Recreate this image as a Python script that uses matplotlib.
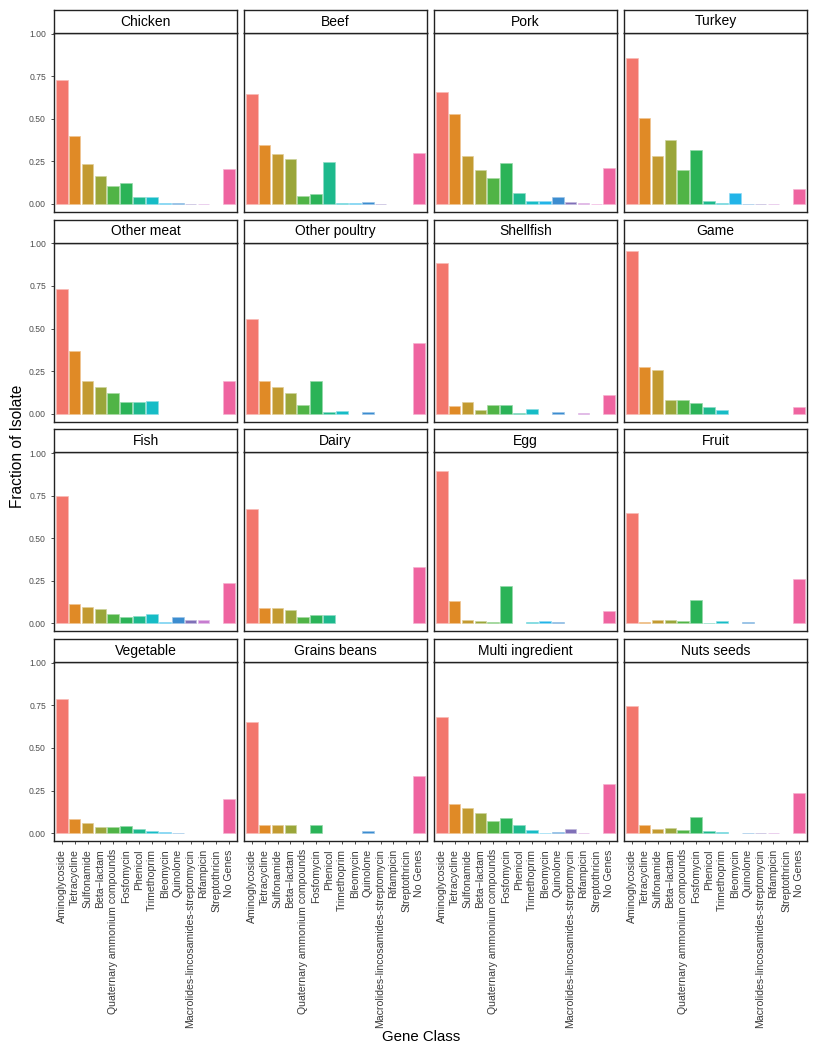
import numpy as np
import matplotlib
matplotlib.use("Agg")
from matplotlib import pyplot as plt

plt.rcParams['font.family'] = ['Liberation Sans', 'DejaVu Sans']

gene_classes = ["Aminoglycoside", "Tetracycline", "Sulfonamide", "Beta\u2212lactam",
                "Quaternary ammonium compounds", "Fosfomycin", "Phenicol", "Trimethoprim",
                "Bleomycin", "Quinolone", "Macrolides-lincosamides-streptomycin",
                "Rifampicin", "Streptothricin", "No Genes"]

foods = ["Chicken", "Beef", "Pork", "Turkey",
         "Other meat", "Other poultry", "Shellfish", "Game",
         "Fish", "Dairy", "Egg", "Fruit",
         "Vegetable", "Grains beans", "Multi ingredient", "Nuts seeds"]

# fraction of isolates per gene class
chicken = [0.726, 0.400, 0.233, 0.165, 0.103, 0.125, 0.041, 0.041, 0.006, 0.003, 0.002, 0.001, 0.0, 0.205]
beef = [0.648, 0.348, 0.294, 0.264, 0.045, 0.057, 0.249, 0.006, 0.004, 0.012, 0.002, 0.0, 0.0, 0.299]
pork = [0.659, 0.530, 0.282, 0.202, 0.151, 0.239, 0.063, 0.016, 0.016, 0.041, 0.012, 0.006, 0.001, 0.213]
turkey = [0.855, 0.507, 0.282, 0.378, 0.200, 0.315, 0.016, 0.008, 0.063, 0.002, 0.002, 0.001, 0.0, 0.086]
other_meat = [0.730, 0.368, 0.190, 0.157, 0.123, 0.067, 0.067, 0.076, 0.0, 0.0, 0.0, 0.0, 0.0, 0.190]
other_poultry = [0.556, 0.190, 0.157, 0.119, 0.049, 0.190, 0.012, 0.016, 0.0, 0.012, 0.0, 0.0, 0.0, 0.413]
shellfish = [0.885, 0.043, 0.067, 0.020, 0.053, 0.053, 0.006, 0.027, 0.0, 0.010, 0.0, 0.004, 0.0, 0.108]
game = [0.955, 0.274, 0.254, 0.082, 0.082, 0.063, 0.039, 0.020, 0.0, 0.0, 0.0, 0.0, 0.0, 0.039]
fish = [0.746, 0.114, 0.098, 0.084, 0.053, 0.039, 0.043, 0.053, 0.010, 0.035, 0.018, 0.018, 0.0, 0.239]
dairy = [0.671, 0.088, 0.088, 0.076, 0.037, 0.049, 0.049, 0.0, 0.0, 0.0, 0.0, 0.0, 0.0, 0.329]
egg = [0.892, 0.129, 0.020, 0.016, 0.010, 0.219, 0.0, 0.010, 0.016, 0.008, 0.0, 0.0, 0.0, 0.070]
fruit = [0.646, 0.010, 0.020, 0.020, 0.014, 0.135, 0.004, 0.014, 0.0, 0.006, 0.0, 0.0, 0.0, 0.260]
vegetable = [0.785, 0.084, 0.057, 0.037, 0.033, 0.039, 0.023, 0.010, 0.004, 0.002, 0.0, 0.0, 0.0, 0.202]
grains_beans = [0.652, 0.049, 0.049, 0.049, 0.0, 0.049, 0.0, 0.0, 0.0, 0.010, 0.0, 0.0, 0.0, 0.333]
multi_ingredient = [0.681, 0.172, 0.147, 0.117, 0.070, 0.088, 0.047, 0.018, 0.002, 0.008, 0.025, 0.002, 0.0, 0.290]
nuts_seeds = [0.748, 0.049, 0.025, 0.029, 0.020, 0.096, 0.012, 0.008, 0.0, 0.002, 0.002, 0.002, 0.0, 0.233]

values = [chicken, beef, pork, turkey, other_meat, other_poultry, shellfish, game,
          fish, dairy, egg, fruit, vegetable, grains_beans, multi_ingredient, nuts_seeds]

colors = ["#F3766C", "#E08A26", "#C39A30", "#9AA63A", "#50B446", "#2BB357", "#1DB98C",
          "#16BCC6", "#22B4E8", "#3C8DD0", "#8070B8", "#C77CD0", "#E36BC0", "#EF64A0"]

W, H = 819, 1050
fig = plt.figure(figsize=(W / 100, H / 100), dpi=100)

def lighten(c, f=0.5):
    rgb = np.array(matplotlib.colors.to_rgb(c))
    return tuple(rgb * (1 - f) + f)

x = np.arange(len(gene_classes))
for i, (food, vals) in enumerate(zip(foods, values)):
    r, c = divmod(i, 4)
    left = 54 + c * 190
    top_strip = 10 + r * 209.7
    top = 33 + r * 209.7
    bottom = 212 + r * 209.7
    ax = fig.add_axes([left / W, 1 - bottom / H, 183 / W, (bottom - top) / H])
    sax = fig.add_axes([left / W, 1 - top / H, 183 / W, (top - top_strip) / H])

    vals = np.array(vals)
    keep = vals > 0
    ax.bar(x[keep], vals[keep], width=0.9,
           color=[colors[k] for k in x[keep]],
           edgecolor=[lighten(colors[k]) for k in x[keep]], linewidth=0.5)
    ax.set_xlim(-0.6, 13.6)
    ax.set_ylim(-0.047, 1.004)
    ax.set_yticks([0, 0.25, 0.5, 0.75, 1.0])
    ax.set_xticks(x)
    for sp in ax.spines.values():
        sp.set_linewidth(1.0)
        sp.set_color('#222222')
    ax.tick_params(axis='both', length=2.3, width=0.6, color='#333333')
    if c == 0:
        ax.set_yticklabels(["0.00", "0.25", "0.50", "0.75", "1.00"],
                           fontsize=6.2, color='#4d4d4d')
    else:
        ax.tick_params(axis='y', left=False, labelleft=False)
    if r == 3:
        ax.set_xticklabels(gene_classes, rotation=90, fontsize=7.6,
                           color='#3a3a3a', ha='center', va='top')
    else:
        ax.tick_params(axis='x', bottom=False, labelbottom=False)

    sax.set_xticks([])
    sax.set_yticks([])
    for sp in sax.spines.values():
        sp.set_linewidth(1.0)
        sp.set_color('#222222')
    sax.text(0.5, 0.5, food, ha='center', va='center', fontsize=10,
             transform=sax.transAxes)

fig.text(421 / W, 1 - 1037 / H, "Gene Class", ha='center', va='center', fontsize=10.8)
fig.text(18 / W, 1 - 446 / H, "Fraction of Isolate", ha='center', va='center',
         rotation=90, fontsize=11.2)

fig.savefig("out.png", dpi=100)
